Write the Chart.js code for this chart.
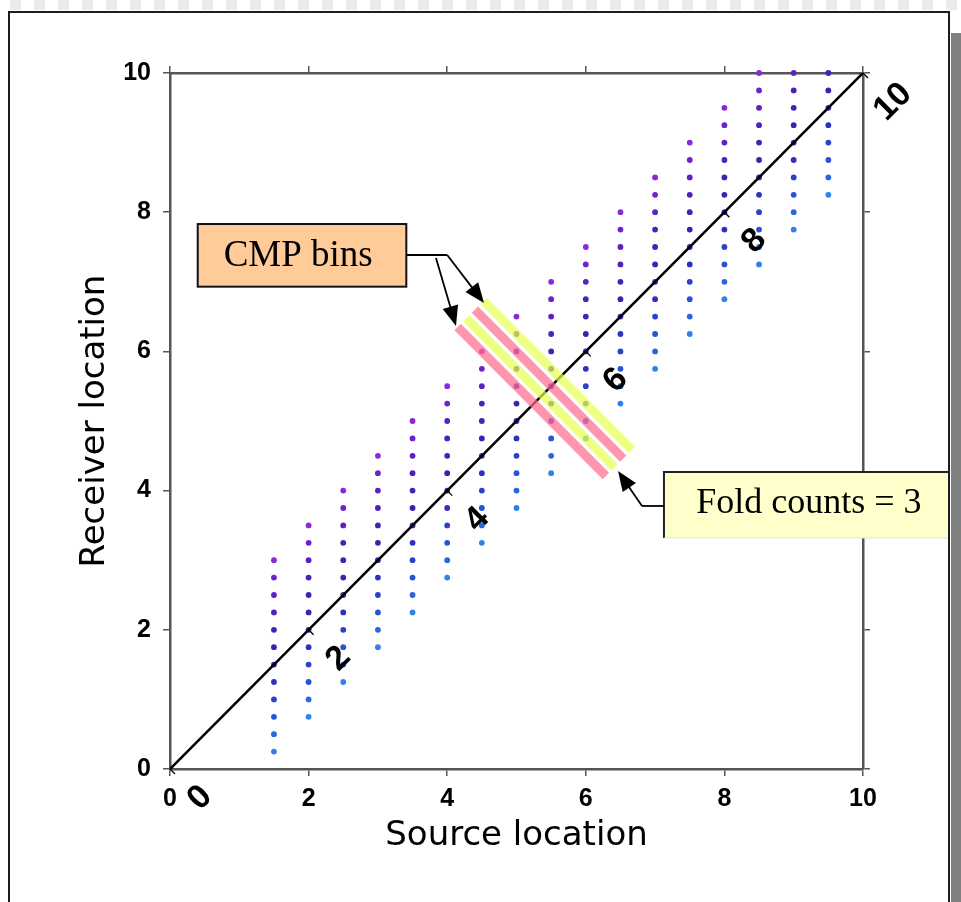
<!DOCTYPE html>
<html><head><meta charset="utf-8">
<script src="https://cdn.jsdelivr.net/npm/chart.js@4.4.1/dist/chart.umd.min.js"></script>
<style>
html,body{margin:0;padding:0;background:#fff;width:961px;height:902px;overflow:hidden;position:relative}
#stripes{position:absolute;left:0;top:0;width:961px;height:10px;background:repeating-linear-gradient(to right,#fff 0,#fff 10px,#ebebeb 10px,#ebebeb 21px,#fff 21px,#fff 24px);}
#frame{position:absolute;left:8px;top:11px;width:938px;height:1000px;border:2px solid #1c1c1c;background:#fff}
#gray{position:absolute;left:951px;top:33px;width:10px;height:900px;background:#808080}
canvas{position:absolute;left:0;top:0}
</style></head>
<body>
<div id="stripes"></div><div id="frame"></div><div id="gray"></div>
<canvas id="c" width="961" height="902"></canvas>
<script>
// ---- data ----
const sourceLocations = [1.5, 2, 2.5, 3, 3.5, 4, 4.5, 5, 5.5, 6, 6.5, 7, 7.5, 8, 8.5, 9, 9.5];
const receiverOffsets = [1.5, 1.25, 1, 0.75, 0.5, 0.25, 0, -0.25, -0.5, -0.75, -1, -1.25];
const offsetColors = ['#8a28dc','#6e22ce','#5c20c4','#4e20bc','#4521b6','#3d22b2','#3526b6','#2f30c0','#2b40cc','#2a52d8','#2a66e3','#3080ee'];
const axisTicks = [0, 2, 4, 6, 8, 10];
const diagonalTickLabels = ['0', '2', '4', '6', '8', '10'];
const diagonalLine = [{x:0, y:0}, {x:10, y:10}];
// CMP bin stripes (lines of constant source+receiver), start / end points
const binStripeStart = [[4.15, 6.35], [4.275, 6.475], [4.40, 6.60], [4.525, 6.725]];
const binStripeEnd   = [[6.29, 4.21], [6.415, 4.335], [6.54, 4.46], [6.665, 4.585]];
const binStripeColors = ['rgba(255,110,145,0.72)','rgba(232,255,80,0.7)','rgba(255,110,145,0.72)','rgba(232,255,80,0.7)'];

const dots = [], dotColors = [];
sourceLocations.forEach(s => receiverOffsets.forEach((o, i) => {
  const r = s + o;
  if (r <= 10) { dots.push({x: s, y: r}); dotColors.push(offsetColors[i]); }
}));

const datasets = [
  {label:'traces', data: dots, backgroundColor: dotColors, pointRadius: 2.9, pointBorderWidth: 0, showLine:false, order: 2, clip: false},
  {label:'diag', data: diagonalLine, showLine: true, borderColor:'#000', borderWidth: 2.6, pointRadius: 0, order: 1}
];
binStripeStart.forEach((p, i) => datasets.push({
  label:'bin'+i, data:[{x:p[0], y:p[1]}, {x:binStripeEnd[i][0], y:binStripeEnd[i][1]}],
  showLine:true, borderColor: binStripeColors[i], borderWidth: 9, borderCapStyle:'butt', pointRadius:0, order:0
}));

const overlay = {
  id: 'overlay',
  afterDraw(chart) {
    const {ctx, scales: {x, y}} = chart;
    const X = v => x.getPixelForValue(v), Y = v => y.getPixelForValue(v);
    ctx.save();
    // ticks and labels on the diagonal
    ctx.strokeStyle = '#000'; ctx.lineWidth = 1.3; ctx.fillStyle = '#000';
    axisTicks.forEach((t, i) => {
      const px = X(t), py = Y(t);
      ctx.beginPath(); ctx.moveTo(px, py); ctx.lineTo(px + 5, py + 5); ctx.stroke();
      ctx.save();
      ctx.translate(px + 30, py + 29); ctx.rotate(-Math.PI / 4);
      ctx.font = 'bold 34px "Liberation Sans", Arial, sans-serif';
      ctx.textAlign = 'center'; ctx.textBaseline = 'middle';
      ctx.fillText(diagonalTickLabels[i], 0, 0);
      ctx.restore();
    });
    function arrow(x0, y0, x1, y1) {
      const a = Math.atan2(y1 - y0, x1 - x0), L = 20, W = 8, c = Math.cos(a), s = Math.sin(a);
      ctx.beginPath(); ctx.moveTo(x0, y0); ctx.lineTo(x1 - L * c * 0.8, y1 - L * s * 0.8); ctx.stroke();
      ctx.beginPath(); ctx.moveTo(x1, y1);
      ctx.lineTo(x1 - L * c + W * s, y1 - L * s - W * c);
      ctx.lineTo(x1 - L * c - W * s, y1 - L * s + W * c);
      ctx.closePath(); ctx.fill();
    }
    // CMP bins box
    const bx0 = X(0.40), bx1 = X(3.41), by0 = Y(7.83), by1 = Y(6.93);
    ctx.fillStyle = '#ffcc99'; ctx.fillRect(bx0, by0, bx1 - bx0, by1 - by0);
    ctx.strokeStyle = '#111'; ctx.lineWidth = 2; ctx.strokeRect(bx0, by0, bx1 - bx0, by1 - by0);
    ctx.fillStyle = '#000'; ctx.font = '37px "Liberation Serif", "Times New Roman", serif';
    ctx.textAlign = 'center'; ctx.textBaseline = 'alphabetic';
    ctx.fillText('CMP bins', X(1.85), Y(7.23));
    ctx.lineWidth = 1.8; ctx.strokeStyle = '#000'; ctx.fillStyle = '#000';
    ctx.beginPath(); ctx.moveTo(bx1, Y(7.385)); ctx.lineTo(X(4.0), Y(7.385)); ctx.stroke();
    arrow(X(4.0), Y(7.385), X(4.531), Y(6.695));
    arrow(X(3.838), Y(7.342), X(4.127), Y(6.365));
    // Fold counts box
    const fx0 = X(7.128), fx1 = X(11.226), fy0 = Y(4.267), fy1 = Y(3.319);
    ctx.fillStyle = '#ffffcc'; ctx.fillRect(fx0, fy0, fx1 - fx0, fy1 - fy0);
    ctx.strokeStyle = '#222'; ctx.lineWidth = 2;
    ctx.beginPath(); ctx.moveTo(fx0, fy1); ctx.lineTo(fx0, fy0); ctx.lineTo(fx1, fy0); ctx.stroke();
    ctx.strokeStyle = '#e4e4d0'; ctx.lineWidth = 1;
    ctx.beginPath(); ctx.moveTo(fx0, fy1); ctx.lineTo(fx1, fy1); ctx.stroke();
    ctx.fillStyle = '#000'; ctx.font = '36px "Liberation Serif", "Times New Roman", serif';
    ctx.fillText('Fold counts = 3', X(9.22), Y(3.678));
    ctx.strokeStyle = '#000'; ctx.lineWidth = 1.8;
    ctx.beginPath(); ctx.moveTo(fx0, Y(3.779)); ctx.lineTo(X(6.811), Y(3.779)); ctx.stroke();
    arrow(X(6.811), Y(3.779), X(6.465), Y(4.282));
    ctx.restore();
  }
};

const tickFont = {family: '"Liberation Sans", Arial, sans-serif', weight: 'bold', size: 25};
const titleFont = {family: '"DejaVu Sans", sans-serif', size: 34};
const axisColor = '#555';

new Chart(document.getElementById('c'), {
  type: 'scatter',
  data: {datasets},
  options: {
    responsive: false, animation: false, events: [],
    layout: {padding: {top: 66, right: 91, bottom: 0, left: 0}},
    plugins: {legend: {display: false}, tooltip: {enabled: false}},
    scales: {
      x: {type: 'linear', position: 'bottom', min: 0, max: 10,
        afterBuildTicks: s => { s.ticks = axisTicks.map(v => ({value: v})); },
        ticks: {color: '#000', font: tickFont, padding: 8, maxRotation: 0, autoSkip: false},
        grid: {drawOnChartArea: false, tickLength: 7, color: axisColor, lineWidth: 1.5},
        border: {display: true, color: axisColor, width: 2.5},
        title: {display: true, text: 'Source location', color: '#000', font: titleFont, padding: {top: 0, bottom: 45}},
        afterFit: s => { s.height = 133; }
      },
      y: {type: 'linear', position: 'left', min: 0, max: 10,
        afterBuildTicks: s => { s.ticks = axisTicks.map(v => ({value: v})); },
        ticks: {color: '#000', font: tickFont, padding: 12, autoSkip: false},
        grid: {drawOnChartArea: false, tickLength: 7, color: axisColor, lineWidth: 1.5},
        border: {display: true, color: axisColor, width: 2.5},
        title: {display: true, text: 'Receiver location', color: '#000', font: titleFont, padding: {top: 75, bottom: 0}},
        afterFit: s => { s.width = 170; }
      },
      x2: {type: 'linear', position: 'top', min: 0, max: 10,
        afterBuildTicks: s => { s.ticks = axisTicks.map(v => ({value: v})); },
        ticks: {display: false},
        grid: {drawOnChartArea: false, tickLength: 7, color: axisColor, lineWidth: 1.5},
        border: {display: true, color: axisColor, width: 2.5},
        afterFit: s => { s.height = 7; }
      },
      y2: {type: 'linear', position: 'right', min: 0, max: 10,
        afterBuildTicks: s => { s.ticks = axisTicks.map(v => ({value: v})); },
        ticks: {display: false},
        grid: {drawOnChartArea: false, tickLength: 7, color: axisColor, lineWidth: 1.5},
        border: {display: true, color: axisColor, width: 2.5},
        afterFit: s => { s.width = 7; }
      }
    }
  },
  plugins: [overlay]
});
</script>
</body></html>
